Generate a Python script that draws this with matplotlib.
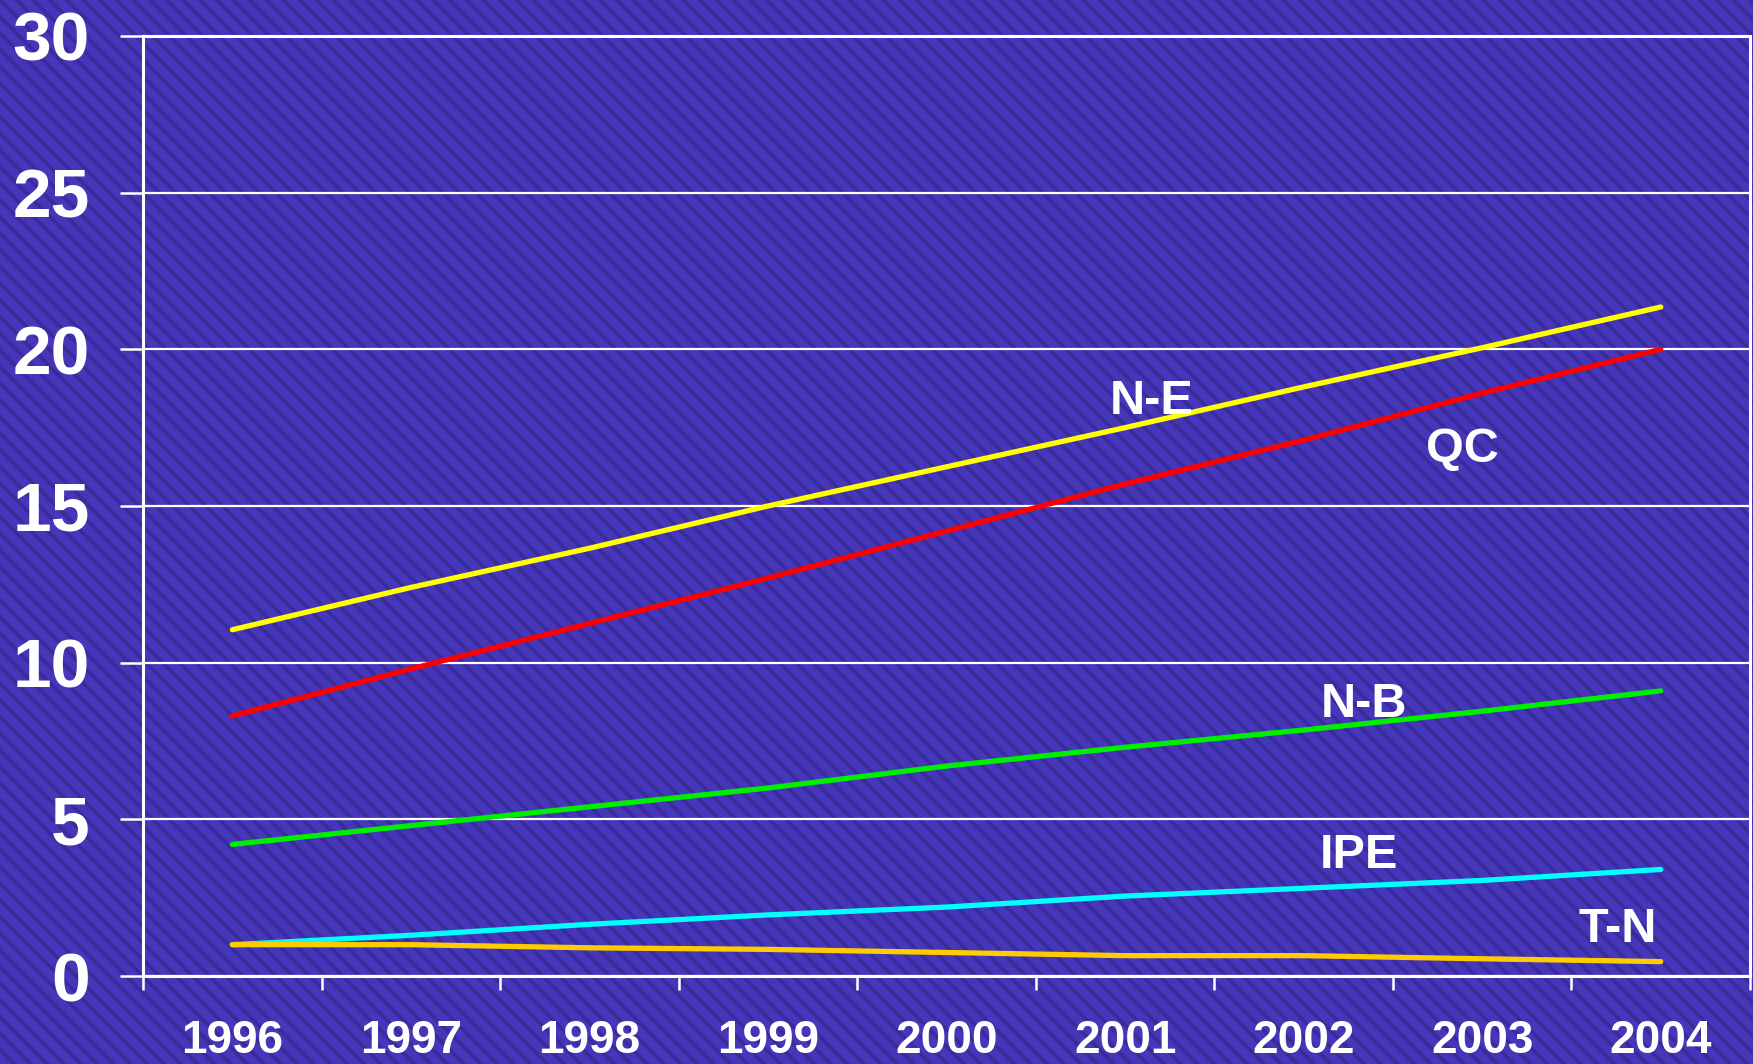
import matplotlib
matplotlib.use("Agg")
import matplotlib.pyplot as plt
from matplotlib.patches import Rectangle

years = ["1996", "1997", "1998", "1999", "2000", "2001", "2002", "2003", "2004"]
ne = [11.05, 12.4, 13.65, 15.0, 16.25, 17.5, 18.8, 20.05, 21.35]
qc = [8.3, 9.8, 11.25, 12.7, 14.2, 15.7, 17.1, 18.6, 20.0]
nb = [4.2, 4.8, 5.4, 6.0, 6.7, 7.3, 7.85, 8.45, 9.1]
ipe = [1.0, 1.3, 1.65, 1.95, 2.2, 2.55, 2.8, 3.05, 3.4]
tn = [1.0, 1.0, 0.9, 0.85, 0.75, 0.65, 0.65, 0.55, 0.46]

series = [
    ("N-E", ne, "#ffff00", (5.65, 18.35)),
    ("QC", qc, "#ff0000", (7.39, 16.8)),
    ("N-B", nb, "#00ee00", (6.84, 8.68)),
    ("IPE", ipe, "#00ffff", (6.81, 3.85)),
    ("T-N", tn, "#ffcc00", (8.26, 1.5)),
]
yticks = [0, 5, 10, 15, 20, 25, 30]

plt.rcParams["font.family"] = ["Liberation Sans", "DejaVu Sans"]
plt.rcParams["hatch.linewidth"] = 2.6

fig = plt.figure(figsize=(17.53, 10.64), dpi=100)
bg = Rectangle((0, 0), 1, 1, transform=fig.transFigure, facecolor="#4636ba",
               edgecolor="#3a2b9a", hatch="\\\\", linewidth=0, zorder=-10)
fig.patches.append(bg)

ax = fig.add_axes([0.0816, 0.0827, 0.9167, 0.8835])
ax.set_facecolor("none")

xs = [i + 0.5 for i in range(len(years))]
for name, vals, col, (lx, ly) in series:
    ax.plot(xs, vals, color=col, lw=3.8, solid_capstyle="round", zorder=3)
    ax.text(lx, ly, name, color="white", fontsize=35, fontweight="bold",
            ha="center", va="center", zorder=4)

ax.set_xlim(0, 9)
ax.set_ylim(0, 30)
ax.set_yticks(yticks)
ax.set_yticklabels([str(v) for v in yticks])
ax.set_xticks(range(10))
ax.set_xticklabels([""] * 10)
ax.set_xticks(xs, minor=True)
ax.set_xticklabels(years, minor=True)

ax.grid(axis="y", color="white", lw=1.6, zorder=1)
for s in ["left", "bottom", "right", "top"]:
    ax.spines[s].set_color("white")
    ax.spines[s].set_linewidth(2.2)
ax.tick_params(axis="y", which="major", length=16.5, width=1.8, color="white",
               labelcolor="white", labelsize=50, pad=22)
for t in ax.get_yticklabels():
    t.set_fontweight("bold")
ax.tick_params(axis="x", which="major", length=10, width=1.8, color="white")
ax.tick_params(axis="x", which="minor", length=0, labelcolor="white",
               labelsize=33, pad=31)
for t in ax.get_xticklabels(minor=True):
    t.set_fontweight("bold")

fig.savefig("out.png", dpi=100)
